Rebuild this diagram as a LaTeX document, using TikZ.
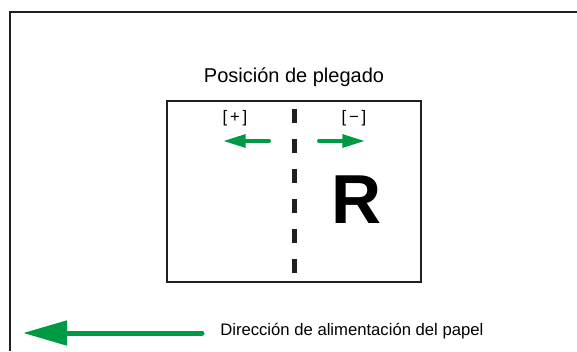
\documentclass[tikz,border=0pt]{standalone}
\usepackage{fontspec}
\setmainfont{Liberation Sans}
\usetikzlibrary{arrows.meta}
\definecolor{feedgreen}{RGB}{0,154,68}
\definecolor{framegray}{RGB}{35,31,32}

\begin{document}
\begin{tikzpicture}[x=0.75pt,y=-0.75pt,
    smallarrow/.style={feedgreen,line width=3pt,line cap=round,-{Triangle[length=17pt,width=9.5pt]}},
    bigarrow/.style={feedgreen,line width=3.75pt,line cap=round,-{Triangle[length=33pt,width=18pt]}},
    sign/.style={inner sep=0,font=\fontsize{12.5}{14}\selectfont}]
    \useasboundingbox (0,0) rectangle (577,351);
    \draw[framegray,line width=2.2pt] (10,351) -- (10,12) -- (577,12);
    \node[anchor=base,inner sep=0] (title) at (294,82) {\fontsize{15}{18}\selectfont Posición de plegado};
    \draw[framegray,line width=1.8pt] (167,101) rectangle (421,282);
    \draw[framegray,line width=3.75pt,dash pattern=on 10.5pt off 12pt] (294,109) -- (294,274);
    \node[sign] (plus) at (235,118) {[\,+\,]};
    \node[sign] (minus) at (354,118) {[\,−\,]};
    \coordinate (lefttail) at (269,141);
    \coordinate (lefthead) at (223,141);
    \coordinate (righttail) at (319,141);
    \coordinate (righthead) at (365,141);
    \draw[smallarrow] (lefttail) -- (lefthead);
    \draw[smallarrow] (righttail) -- (righthead);
    \node[anchor=base,inner sep=0] (letter) at (356.5,223) {\fontsize{52}{60}\selectfont\bfseries R};
    \node[anchor=base west,inner sep=0] (feed) at (220,335) {\fontsize{12.5}{15}\selectfont Dirección de alimentación del papel};
    \coordinate (feedtail) at (202,333);
    \coordinate (feedhead) at (23,333);
    \draw[bigarrow] (feedtail) -- (feedhead);
\end{tikzpicture}
\end{document}
